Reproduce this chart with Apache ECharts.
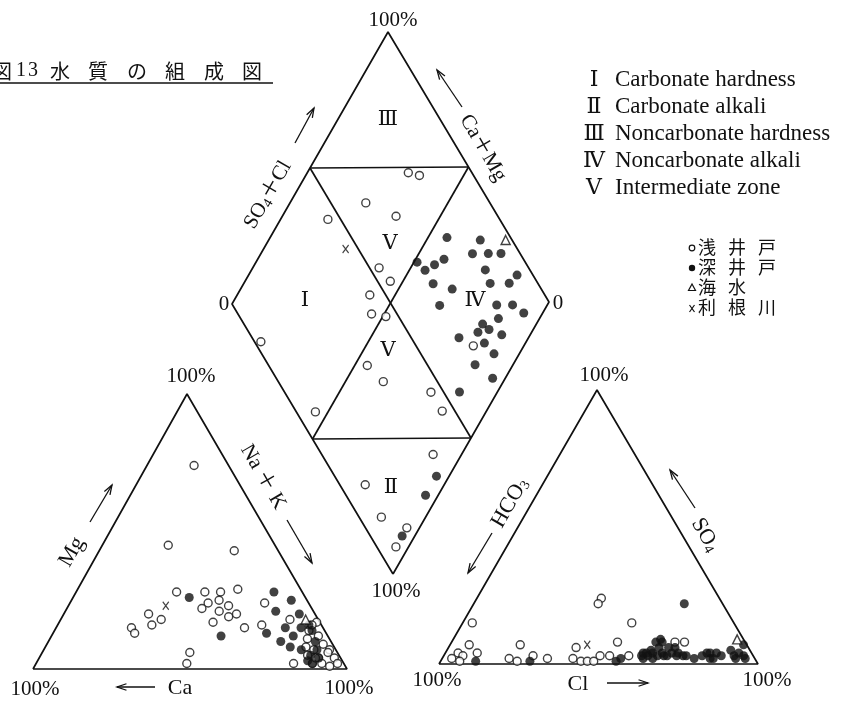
<!DOCTYPE html>
<html><head><meta charset="utf-8">
<script src="https://cdn.jsdelivr.net/npm/echarts@6/dist/echarts.min.js"></script>
<style>html,body{margin:0;padding:0;background:#fff}#c{width:844px;height:702px}</style>
</head><body><div id="c"></div><script>
// ---------- sample compositions (meq %) ----------
// cation triangle: [Ca, Mg, Na+K]
const cationShallow = [
  [11,74,15],[34,45,21],[14,43,43],[40,28,32],[31,28,41],[26,28,46],[20,29,51],[28,25,47],
  [32,24,44],[35,22,43],[26,23,51],[30,21,49],[28,19,53],[25,20,55],[34,17,49],[25,15,60],
  [53,20,27],[54,16,30],[50,18,32],[61,15,24],[61,13,26],[47,6,47],[50,2,48],[14,24,62],
  [19,16,65],[16,2,82],[9,18,73],[1,17,82],[5,14,81],[3,12,85],[7,11,82],[9,8,83],
  [3,9,88],[2,7,91],[10,5,85],[7,4,89],[2,4,94],[10,2,88],[7,2,91],[5,1,94],
  [2,2,96],[7,7,86],[8,4,88],[3,6,91],[3,16,81]
];
const cationDeep = [
  [37,26,37],[34,12,54],[9,28,63],[5,25,70],[12,21,67],[5,20,75],[12,15,73],[19,13,68],
  [7,15,78],[11,12,77],[16,10,74],[14,8,78],[4,16,80],[4,14,82],[5,10,85],[11,7,82],
  [9,5,86],[6,7,87],[7,4,89],[11,3,86],[10,2,88]
];
const cationSea = [[4,18,78]];
const cationTone = [[46,23,31]];

// anion triangle: [HCO3, SO4, Cl]
const anionShallow = [
  [82,15,3],[87,7,6],[92,4,4],[91,3,6],[95,2,3],[93,1,6],[86,4,10],[71,7,22],
  [77,2,21],[75,1,24],[69,3,28],[65,2,33],[54,6,40],[57,2,41],[55,1,44],[53,1,46],
  [51,1,48],[48,3,49],[45,3,52],[40,8,52],[39,3,58],[32,15,53],[37,24,39],[39,22,39],
  [22,8,70],[19,8,73]
];
const anionDeep = [
  [88,1,11],[71,1,28],[44,1,55],[12,22,66],[42,2,56],[35,3,62],[33,4,63],[33,3,64],
  [31,4,65],[30,3,67],[26,8,66],[28,6,66],[28,4,68],[28,3,69],[25,6,69],[27,3,70],
  [25,4,71],[23,6,71],[24,3,73],[23,4,73],[22,3,75],[21,3,76],[32,2,66],[35,2,63],
  [19,2,79],[16,3,81],[14,4,82],[13,4,83],[14,2,84],[11,4,85],[10,3,87],[13,2,85],
  [6,5,89],[6,3,91],[4,4,92],[6,2,92],[3,3,94],[3,2,95],[1,7,92],[28,8,64],
  [26,9,65],[34,4,62],[31,5,64]
];
const anionSea = [[2,9,89]];
const anionTone = [[50,7,43]];

// diamond: [SO4+Cl, Ca+Mg]
const diamondShallow = [
  [80,68],[83,64],[61,76],[68,64],[46,85],[53,60],[54,54],[45,58],[42,54],[46,49],
  [68,16],[33,38],[31,46],[6,54],[46,21],[46,14],[35,9],[8,25],[7,14],[13,4],[6,4],[2,84]
];
const diamondDeep = [
  [80,44],[90,33],[94,24],[90,28],[85,33],[75,41],[71,43],[66,49],[67,45],[86,26],
  [95,15],[91,16],[85,22],[67,40],[72,33],[65,34],[83,16],[88,11],[90,6],[81,13],
  [75,17],[72,17],[76,14],[79,9],[65,22],[72,13],[73,8],[65,12],[68,4],[55,12],
  [32,4],[25,4],[10,4]
];
const diamondSea = [[98,25]];
const diamondTone = [[46,74]];

// zone names
const zoneNumerals = ['Ⅰ','Ⅱ','Ⅲ','Ⅳ','Ⅴ'];
const zoneNames = ['Carbonate hardness','Carbonate alkali','Noncarbonate hardness','Noncarbonate alkali','Intermediate zone'];
const groupNames = ['浅 井 戸','深 井 戸','海 水','利 根 川'];
const titleChars = ['図','1','3','水','質','の','組','成','図'];

// ---------- layout of the three plots in chart units ----------
const CAT = {o:[33,669], p:[347,669], q:[187,394]};   // Ca, Na+K, Mg corners
const AN  = {o:[439,664], p:[758,664], q:[597,390]};  // HCO3, Cl, SO4 corners
const DIA = {o:[393,574], p:[549,302], q:[232,304]};  // bottom, SO4+Cl end, Ca+Mg end

function tern(T, a, b) {
  return [T.o[0] + a*(T.p[0]-T.o[0]) + b*(T.q[0]-T.o[0]),
          T.o[1] + a*(T.p[1]-T.o[1]) + b*(T.q[1]-T.o[1])];
}
const catPt = d => tern(CAT, d[2]/100, d[1]/100);
const anPt  = d => tern(AN,  d[2]/100, d[1]/100);
const diaPt = d => tern(DIA, d[0]/100, d[1]/100);

const LINE = {color:'#111', width:1.7};
function frame(pts) {
  return {type:'line', data:pts, symbol:'none', lineStyle:LINE, silent:true, animation:false, z:1};
}
const openStyle = {color:'#fff', borderColor:'#111', borderWidth:1.4};
const fillStyle = {color:'#111'};
const seaStyle = {color:'#fff', borderColor:'#111', borderWidth:1.4};
const xPath = 'path://M0,0L8,10M8,0L0,10';
const toneStyle = {color:'rgba(0,0,0,0)', borderColor:'#111', borderWidth:1.3};

function scat(data, map, kind) {
  const s = {type:'scatter', data:data.map(map), animation:false, silent:true, z:3};
  if (kind === 'open') Object.assign(s, {symbol:'circle', symbolSize:8, itemStyle:openStyle});
  if (kind === 'fill') Object.assign(s, {symbol:'circle', symbolSize:9, itemStyle:fillStyle});
  if (kind === 'sea')  Object.assign(s, {symbol:'triangle', symbolSize:9, itemStyle:seaStyle});
  if (kind === 'tone') Object.assign(s, {symbol:xPath, symbolSize:[6,8], itemStyle:toneStyle});
  return s;
}

const series = [
  frame([catPt([100,0,0]), catPt([0,0,100]), catPt([0,100,0]), catPt([100,0,0])]),
  frame([anPt([100,0,0]), anPt([0,0,100]), anPt([0,100,0]), anPt([100,0,0])]),
  frame([diaPt([0,0]), diaPt([100,0]), diaPt([100,100]), diaPt([0,100]), diaPt([0,0])]),
  frame([diaPt([50,0]), diaPt([50,100])]),
  frame([diaPt([0,50]), diaPt([100,50])]),
  frame([diaPt([50,100]), diaPt([100,50])]),
  frame([diaPt([0,50]), diaPt([50,0])]),
  scat(cationShallow, catPt, 'open'), scat(cationDeep, catPt, 'fill'),
  scat(cationSea, catPt, 'sea'), scat(cationTone, catPt, 'tone'),
  scat(anionShallow, anPt, 'open'), scat(anionDeep, anPt, 'fill'),
  scat(anionSea, anPt, 'sea'), scat(anionTone, anPt, 'tone'),
  scat(diamondShallow, diaPt, 'open'), scat(diamondDeep, diaPt, 'fill'),
  scat(diamondSea, diaPt, 'sea'), scat(diamondTone, diaPt, 'tone')
];

// ---------- annotation helpers ----------
const SERIF = '"Liberation Serif","DejaVu Serif","Noto Sans CJK JP",serif';
const CJK = '"Noto Sans CJK JP","Noto Sans CJK SC",sans-serif';
const SUB = {s:{fontSize:14, fontFamily:SERIF, padding:[9,0,0,0]}};
function txt(x, y, text, size, rot, fam, align, rich) {
  return {type:'text', x:x, y:y, rotation:(rot||0)*Math.PI/180, silent:true, z:10,
    style:{text:text, x:0, y:0, fontSize:size, fontFamily:fam||SERIF, fill:'#111',
      align:align||'center', textAlign:align||'center', verticalAlign:'middle', textVerticalAlign:'middle',
      rich:rich}};
}
function arrow(x1, y1, x2, y2) {
  const a = Math.atan2(y2-y1, x2-x1), L = 10, h = 0.33;
  const p1 = [x2 - L*Math.cos(a-h), y2 - L*Math.sin(a-h)];
  const p2 = [x2 - L*Math.cos(a+h), y2 - L*Math.sin(a+h)];
  return [
    {type:'line', shape:{x1:x1,y1:y1,x2:x2,y2:y2}, style:{stroke:'#111', lineWidth:1.3}, silent:true, z:10},
    {type:'polyline', shape:{points:[p1,[x2,y2],p2]}, style:{stroke:'#111', lineWidth:1.3, fill:null}, silent:true, z:10}
  ];
}

const g = [];
// title
const titleX = [2,21,33,60,98,137,175,214,252];
titleChars.forEach((c,i) => g.push(txt(titleX[i], 71, c, 20, 0, /[0-9]/.test(c) ? SERIF : CJK)));
g.push({type:'line', shape:{x1:0,y1:83,x2:273,y2:83}, style:{stroke:'#111', lineWidth:1.5}, silent:true});

// diamond labels
g.push(txt(393,20,'100%',21), txt(396,591,'100%',21), txt(224,304,'0',21), txt(558,303,'0',21));
g.push(txt(268,195,'SO{s|4}＋Cl',21,60,SERIF,'center',SUB));
g.push(txt(483,148,'Ca＋Mg',21,-60));
g.push(...arrow(295,143,314,108), ...arrow(462,107,437,70));
const zonePos = [[305,300,0],[391,487,1],[388,119,2],[475,300,3],[390,243,4],[388,350,4]];
zonePos.forEach(p => g.push(txt(p[0],p[1],zoneNumerals[p[2]],21)));

// cation triangle labels
g.push(txt(191,376,'100%',21), txt(35,689,'100%',21), txt(349,688,'100%',21));
g.push(txt(180,688,'Ca',22), ...arrow(155,687,117,687));
g.push(txt(72,552,'Mg',22,60), ...arrow(90,522,112,485));
g.push(txt(263,477,'Na ＋ K',21,-60), ...arrow(287,520,312,563));

// anion triangle labels
g.push(txt(604,375,'100%',21), txt(437,680,'100%',21), txt(767,680,'100%',21));
g.push(txt(578,684,'Cl',22), ...arrow(607,683,648,683));
g.push(txt(510,503,'HCO{s|3}',22,60,SERIF,'center',SUB), ...arrow(492,533,468,573));
g.push(txt(705,535,'SO{s|4}',22,-60,SERIF,'center',SUB), ...arrow(695,508,670,470));

// zone legend
zoneNames.forEach((n,i) => {
  const y = 80 + 27*i;
  g.push(txt(594,y,zoneNumerals[i],22), txt(615,y,n,23,0,SERIF,'left'));
});
// group legend
const gy = [247,267,287,307];
groupNames.forEach((n,i) => {
  const chars = n.split(' ');
  chars.forEach((c,j) => g.push(txt(707+30*j, gy[i], c, 18, 0, CJK)));
});
g.push({type:'circle', shape:{cx:692,cy:gy[0]+1,r:2.8}, style:{fill:'#fff',stroke:'#111',lineWidth:1.2}, silent:true});
g.push({type:'circle', shape:{cx:692,cy:gy[1]+1,r:3.2}, style:{fill:'#111'}, silent:true});
g.push({type:'polygon', shape:{points:[[692,gy[2]-3],[688.5,gy[2]+3.5],[695.5,gy[2]+3.5]]}, style:{fill:'#fff',stroke:'#111',lineWidth:1.2}, silent:true});
g.push({type:'polyline', shape:{points:[[689.5,gy[3]-2],[694.5,gy[3]+5]]}, style:{stroke:'#111',lineWidth:1.2,fill:null}, silent:true});
g.push({type:'polyline', shape:{points:[[694.5,gy[3]-2],[689.5,gy[3]+5]]}, style:{stroke:'#111',lineWidth:1.2,fill:null}, silent:true});

const chart = echarts.init(document.getElementById('c'));
chart.setOption({
  animation:false,
  backgroundColor:'#fff',
  grid:{left:0, right:0, top:0, bottom:0},
  xAxis:{type:'value', min:0, max:844, show:false},
  yAxis:{type:'value', min:0, max:702, inverse:true, show:false},
  series:series,
  graphic:g
});
</script></body></html>
